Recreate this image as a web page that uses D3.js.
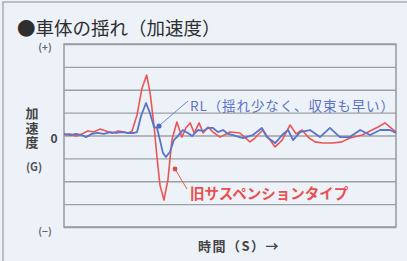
<!DOCTYPE html>
<html>
<head>
<meta charset="utf-8">
<script src="https://cdn.jsdelivr.net/npm/d3@7"></script>
<style>
  html, body { margin: 0; padding: 0; background: #edf2f8; }
  svg { display: block; font-family: "Noto Sans CJK JP", "Noto Sans", sans-serif; }
</style>
</head>
<body>
<div id="chart"></div>
<script>
// time samples (arbitrary units, 0..100) and acceleration values (G, -4..4)
const oldTime = [0, 1.8, 3.6, 5.4, 7.2, 9, 10.8, 12.7, 14.5, 16.3, 18.1, 19.3, 20.5, 22, 23.5, 24.9,
  25.9, 27.1, 28, 28.9, 30.1, 31.3, 32.5, 34, 35.5, 36.7, 38, 39.2, 40.7, 41.9, 43.4, 44.9, 47, 50,
  53, 56, 57.5, 59.9, 61.4, 63.6, 65.7, 68.1, 69.9, 71.7, 73.8, 75.6, 78, 81, 83.7, 86.1, 89.8,
  92.8, 94.6, 96.7, 98.2, 100];
const oldAccel = [0.02, 0.07, -0.02, 0.07, 0.2, 0.15, 0.28, 0.2, 0.1, 0.2, 0.15, 0.1, 0.2, 0.9, 2.07, 2.64,
  1.9, 0.46, -0.94, -2.16, -2.82, -1.94, -0.2, 0.59, -0.07, 0.33, 0.55, 0.11, 0.55, 0.11, 0.37, 0.15, -0.07, 0.15,
  0.11, -0.28, -0.11, 0.24, -0.07, -0.5, -0.2, 0.46, 0.07, 0.24, -0.11, -0.28, -0.33, -0.33, -0.28, -0.11, 0.02,
  0.24, 0.37, 0.55, 0.37, 0.15];

const rlTime = [0, 1.8, 3.6, 5.4, 6.6, 8.4, 10.2, 12, 13.9, 15.7, 17.5, 19.3, 21.1, 22, 23.2, 24.7,
  25.9, 27.1, 28, 28.9, 29.8, 30.7, 31.9, 33.1, 34, 35.8, 37.3, 38.6, 40.4, 41.9, 43.4, 44.9, 46.4,
  47.9, 49.4, 50.9, 53.9, 56.9, 59.6, 61.1, 63.6, 65.7, 67.5, 69, 71.1, 74.1, 77.1, 80.1, 83.1,
  86.1, 89.2, 92.2, 95.2, 98.2, 100];
const rlAccel = [0.07, 0.02, 0.07, 0.02, -0.07, 0.07, 0.11, 0.07, 0.15, 0.11, 0.15, 0.11, 0.11, 0.15, 0.85, 1.42,
  0.98, 0.37, 0.33, -0.2, -0.76, -0.94, -0.72, -0.2, -0.07, 0.24, 0.11, -0.02, 0.24, 0.2, 0.33, 0.33, 0.15,
  0.24, 0.07, 0.02, -0.11, 0.02, 0.33, -0.07, -0.33, 0.02, 0.24, -0.2, 0.15, 0.24, -0.07, 0.33, -0.07,
  -0.07, 0.24, 0.02, 0.24, 0.24, 0.11];

const gridValues = [-4, -3, -2, -1, 0, 1, 2, 3, 4];
const yTickValues = [4, 0, -4];
const yTickLabels = ["(+)", "0", "(−)"];

const W = 407, H = 261;
const margin = { left: 64, right: 11, top: 44, bottom: 34 };

const svg = d3.select("#chart").append("svg").attr("width", W).attr("height", H);

// outer frame
svg.append("rect")
  .attr("x", 3).attr("y", 2).attr("width", W + 10).attr("height", H + 10)
  .attr("fill", "#edf2f8").attr("stroke", "#a9acb0").attr("stroke-width", 1.5);

const x = d3.scaleLinear().domain([0, 100]).range([margin.left, W - margin.right]);
const y = d3.scaleLinear().domain([-4, 4]).range([H - margin.bottom, margin.top]);

// title
svg.append("text")
  .attr("x", 17).attr("y", 35)
  .attr("font-size", 18.5).attr("fill", "#2e2e2e")
  .text("●車体の揺れ（加速度）");

// grid lines via axis
svg.append("g")
  .attr("transform", `translate(${margin.left},0)`)
  .call(d3.axisLeft(y).tickValues(gridValues).tickSize(-(W - margin.left - margin.right)).tickFormat(""))
  .call(g => g.select(".domain").remove())
  .call(g => g.selectAll(".tick line").attr("stroke", "#9c9fa3").attr("stroke-width", 1.4));

// plot frame
svg.append("rect")
  .attr("x", margin.left).attr("y", margin.top)
  .attr("width", W - margin.left - margin.right).attr("height", H - margin.top - margin.bottom)
  .attr("fill", "none").attr("stroke", "#9c9fa3").attr("stroke-width", 1.6);

// y tick labels
svg.selectAll(".ylab").data(yTickValues).enter().append("text")
  .attr("class", "ylab")
  .attr("x", (d, i) => i === 1 ? 54 : 45)
  .attr("y", (d, i) => y(d) + (i === 1 ? 7 : i === 0 ? 7 : 8))
  .attr("text-anchor", "middle")
  .attr("font-size", (d, i) => i === 1 ? 12 : 10)
  .attr("font-weight", "bold")
  .attr("fill", (d, i) => i === 1 ? "#444" : "#666")
  .text((d, i) => yTickLabels[i]);

// vertical axis title (one vertical text)
svg.append("text")
  .attr("x", 32).attr("y", 107)
  .attr("writing-mode", "vertical-rl")
  .style("writing-mode", "vertical-rl")
  .attr("letter-spacing", 1.5)
  .attr("font-size", 13).attr("font-weight", "bold").attr("fill", "#444")
  .text("加速度");
svg.append("text")
  .attr("x", 34).attr("y", 171)
  .attr("text-anchor", "middle")
  .attr("font-size", 11).attr("font-weight", "bold").attr("fill", "#555")
  .text("(G)");

// x axis title
svg.append("text")
  .attr("x", 198).attr("y", 251)
  .attr("font-size", 13).attr("font-weight", "bold").attr("fill", "#444")
  .attr("letter-spacing", 1.5)
  .text("時間（S）→");

const line = d3.line().x(d => x(d[0])).y(d => y(d[1]));

svg.append("path")
  .datum(oldTime.map((t, i) => [t, oldAccel[i]]))
  .attr("d", line)
  .attr("fill", "none").attr("stroke", "#ec5555").attr("stroke-width", 1.6)
  .attr("stroke-linejoin", "round");

svg.append("path")
  .datum(rlTime.map((t, i) => [t, rlAccel[i]]))
  .attr("d", line)
  .attr("fill", "none").attr("stroke", "#5a74c8").attr("stroke-width", 1.8)
  .attr("stroke-linejoin", "round");

// annotations
svg.append("line")
  .attr("x1", 188).attr("y1", 101).attr("x2", 160).attr("y2", 125)
  .attr("stroke", "#6f86cc").attr("stroke-width", 1);
svg.append("circle").attr("cx", 159).attr("cy", 126).attr("r", 2.6).attr("fill", "#4f68c0");
svg.append("text")
  .attr("x", 190).attr("y", 111)
  .attr("font-size", 13.5).attr("fill", "#5d72c4")
  .attr("letter-spacing", 0.9)
  .text("RL（揺れ少なく、収束も早い）");

svg.append("line")
  .attr("x1", 187).attr("y1", 189).attr("x2", 175).attr("y2", 169)
  .attr("stroke", "#e85a5a").attr("stroke-width", 1);
svg.append("circle").attr("cx", 175).attr("cy", 169).attr("r", 2.4).attr("fill", "#e04848");
svg.append("text")
  .attr("x", 190).attr("y", 199)
  .attr("font-size", 14.5).attr("font-weight", "bold").attr("fill", "#ea4f4f")
  .text("旧サスペンションタイプ");
</script>
</body>
</html>
